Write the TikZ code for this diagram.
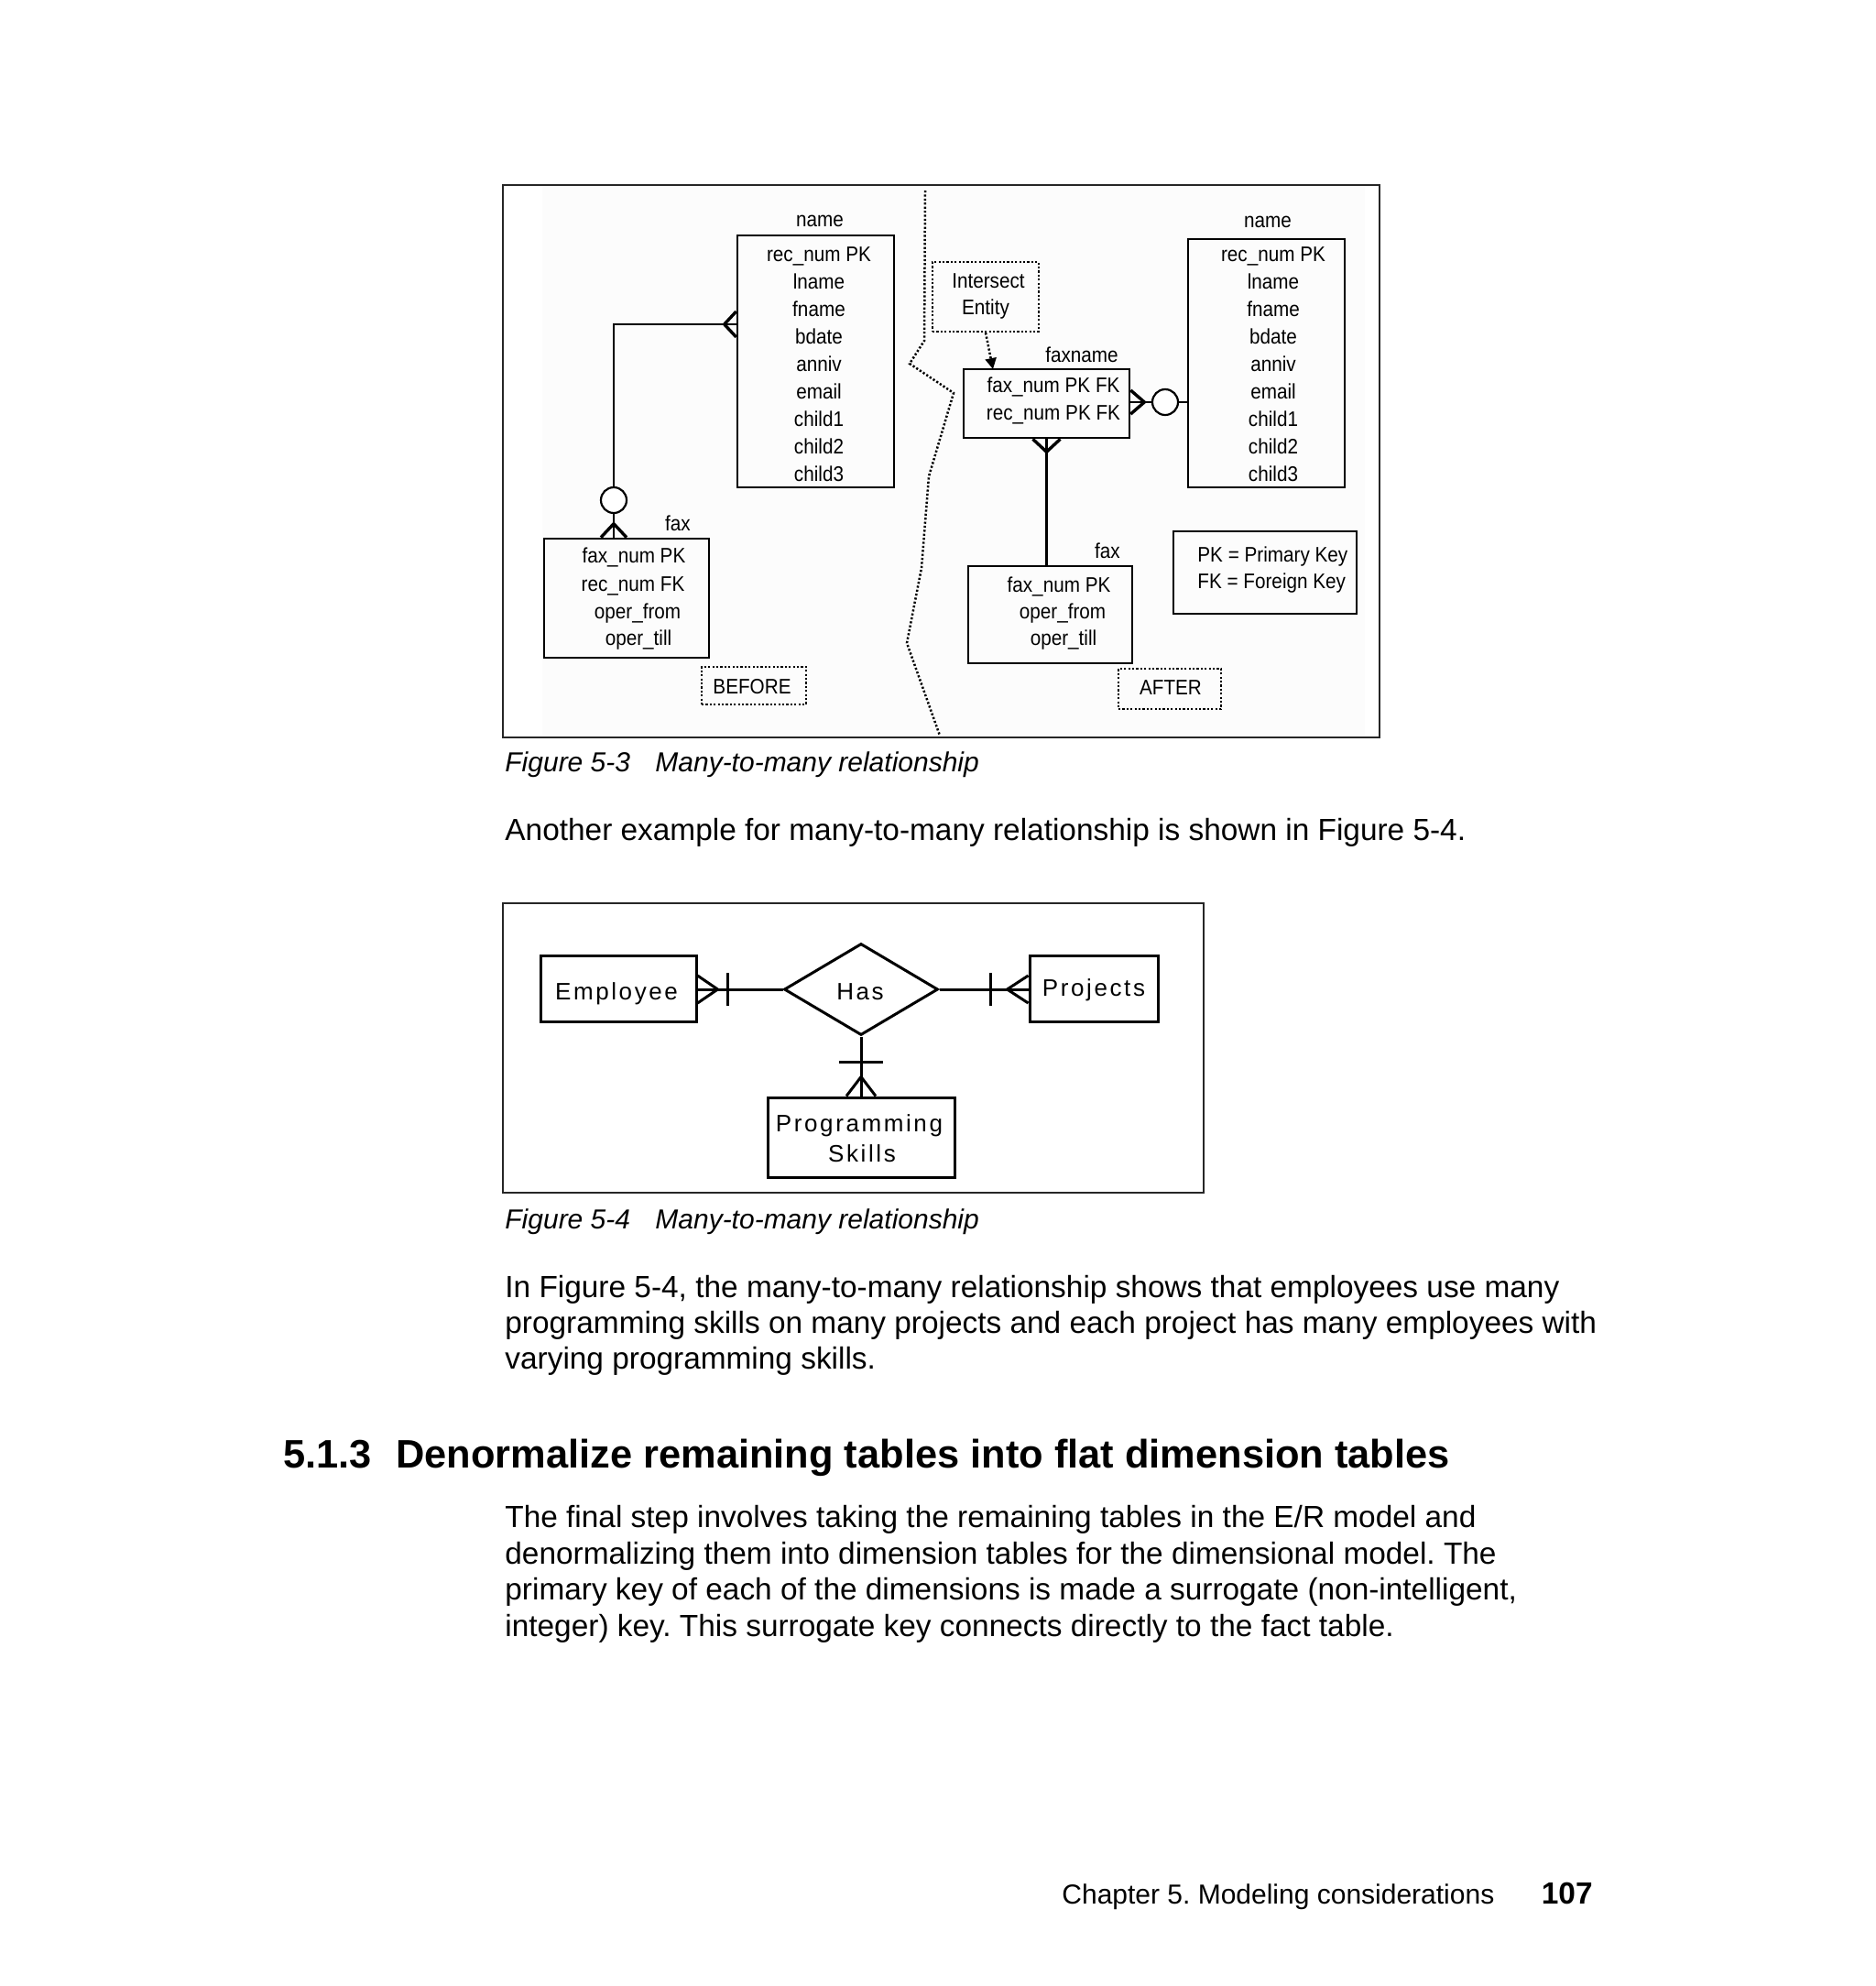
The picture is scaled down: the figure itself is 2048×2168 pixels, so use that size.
\documentclass[tikz,border=0pt]{standalone}
\usepackage{fontspec}
\setmainfont{Liberation Sans}
\newfontfamily\condf[FakeStretch=0.9]{Liberation Sans}
\newfontfamily\spacedf[LetterSpace=10]{Liberation Sans}
\usetikzlibrary{shapes.geometric,arrows.meta,fit,calc}
\frenchspacing
\begin{document}
\begin{tikzpicture}[x=0.5pt,y=-0.5pt,
  frame/.style={draw=black!85, line width=1pt},
  tbl/.style={draw, line width=1.3pt, inner sep=0pt},
  dotbox/.style={draw, line width=1.25pt, dash pattern=on 1.1pt off 1.1pt, inner sep=0pt},
  dotline/.style={line width=1.25pt, dash pattern=on 1.1pt off 1.1pt},
  conn/.style={line width=1.3pt},
  crow/.style={line width=1.7pt, line join=miter},
  ftxt/.style={font=\condf\fontsize{11.5}{14}\selectfont, inner sep=0pt, anchor=base},
  erbox/.style={draw, line width=1.5pt, inner sep=0pt},
  c4/.style={line width=1.5pt},
  etxt/.style={font=\spacedf\fontsize{13}{16}\selectfont, inner sep=0pt, anchor=base},
  body/.style={font=\fontsize{16.7}{20}\selectfont, inner sep=0pt, anchor=base west},
  capt/.style={font=\itshape\fontsize{15}{18}\selectfont, inner sep=0pt, anchor=base west},
]
\useasboundingbox (0,0) rectangle (2048,2168);
\fill[white] (0,0) rectangle (2048,2168);

%% ---------------- Figure 5-3 ----------------
\fill[black!1.3] (592,204) rectangle (1490,803);
\node[frame, inner sep=0pt, fit={(549,202) (1506,805)}] (fig3) {};

% left (before)
\node[tbl, fit={(805,257) (976,532)}] (lname) {};
\node[ftxt] (lnamelab) at (895,247) {name};
\foreach \t [count=\i from 0] in {rec\_num PK, lname, fname, bdate, anniv, email, child1, child2, child3}
  \node[ftxt] (lrow\i) at (894,285+30.1*\i) {\t};

\node[tbl, fit={(594,588) (774,718)}] (lfax) {};
\node[ftxt] (lfaxlab) at (740,579) {fax};
\node[ftxt] (lf0) at (692,614) {fax\_num PK};
\node[ftxt] (lf1) at (691,645) {rec\_num FK};
\node[ftxt] (lf2) at (696,675) {oper\_from};
\node[ftxt] (lf3) at (697,704) {oper\_till};

\node[circle, draw, line width=1.1pt, minimum size=14pt, inner sep=0pt, fill=white] (lcirc) at (670,546) {};
\coordinate (lk) at (670,354);
\coordinate (la) at (lname.west |- lk);
\coordinate (lb) at (lk |- lfax.north);
\draw[conn] (la) -- (lk) -- (lcirc.north);
\draw[conn] (lcirc.south) -- (lb);
\draw[crow] (la) ++(0,-14) -- ++(-13,14) -- ++(13,14);
\draw[crow] (lb) ++(-14,0) -- ++(14,-15) -- ++(14,15);

\node[dotbox, fit={(766,728) (880,769)}] (before) {};
\node[ftxt] (beforet) at (821,757) {BEFORE};

% divider
\draw[dotline] (1010,208) -- (1009,372) -- (993,397) -- (1041,429) -- (1014,520) -- (1006,620) -- (990,702) -- (1026,803);

% right (after)
\node[dotbox, fit={(1018,286) (1134,362)}] (ie) {};
\node[ftxt] (ie1) at (1079,314) {Intersect};
\node[ftxt] (ie2) at (1076,343) {Entity};

\node[tbl, fit={(1052,403) (1233,478)}] (fxn) {};
\node[ftxt] (fxnlab) at (1181,395) {faxname};
\node[ftxt] (fxn0) at (1150,428) {fax\_num PK FK};
\node[ftxt] (fxn1) at (1150,458) {rec\_num PK FK};
\coordinate (fxin) at (1084,403);
\draw[dotline, -{Triangle[length=6pt,width=6pt]}] (ie.south) -- (fxin);

\node[tbl, fit={(1297,261) (1468,532)}] (rname) {};
\node[ftxt] (rnamelab) at (1384,248) {name};
\foreach \t [count=\i from 0] in {rec\_num PK, lname, fname, bdate, anniv, email, child1, child2, child3}
  \node[ftxt] (rrow\i) at (1390,285+30.1*\i) {\t};

\node[circle, draw, line width=1.1pt, minimum size=14pt, inner sep=0pt, fill=white] (rcirc) at (1272,439) {};
\coordinate (ra) at (rcirc -| fxn.east);
\draw[conn] (ra) -- (rcirc.west);
\draw[conn] (rcirc.east) -- (rcirc -| rname.west);
\draw[crow] (ra) ++(0,-13) -- ++(15,13) -- ++(-15,13);

\node[tbl, fit={(1057,618) (1236,724)}] (afax) {};
\node[ftxt] (afaxlab) at (1209,609) {fax};
\node[ftxt] (af0) at (1156,646) {fax\_num PK};
\node[ftxt] (af1) at (1160,675) {oper\_from};
\node[ftxt] (af2) at (1161,704) {oper\_till};
\coordinate (fb) at (afax.north -| fxn.south);
\draw[conn] (fxn.south) -- (fb);
\draw[crow] (fxn.south) ++(-15,0) -- ++(15,14) -- ++(15,-14);

\node[tbl, fit={(1281,580) (1481,670)}] (legend) {};
\node[ftxt, anchor=base west] (leg1) at (1307,613) {PK = Primary Key};
\node[ftxt, anchor=base west] (leg2) at (1307,642) {FK = Foreign Key};

\node[dotbox, fit={(1221,730) (1333,774)}] (after) {};
\node[ftxt] (aftert) at (1278,758) {AFTER};

\node[capt] (cap3a) at (551,842) {Figure 5-3};
\node[capt] (cap3b) at (715,842) {Many-to-many relationship};

\node[body] (p1) at (551,917) {Another example for many-to-many relationship is shown in Figure 5-4.};

%% ---------------- Figure 5-4 ----------------
\node[frame, inner sep=0pt, fit={(549,986) (1314,1302)}] (fig4) {};

\node[erbox, fit={(590,1043) (760,1115)}] (emp) {};
\node[etxt] (empt) at (673,1091) {Employee};
\node[draw, diamond, line width=1.5pt, inner sep=0pt, minimum width=84pt, minimum height=50pt] (has) at (940,1080) {};
\node[etxt] (hast) at (939,1091) {Has};
\node[erbox, fit={(1124,1043) (1264,1115)}] (proj) {};
\node[etxt] (projt) at (1194,1087) {Projects};
\node[erbox, fit={(838,1198) (1042,1285)}] (ps) {};
\node[etxt] (pst1) at (938,1235) {Programming};
\node[etxt] (pst2) at (941,1268) {Skills};

\coordinate (ea) at (has.west -| emp.east);
\draw[c4] (ea) -- (has.west);
\draw[c4] (ea) ++(0,-15) -- ++(22,15) -- ++(-22,15);
\draw[c4] (ea) ++(33,-18) -- ++(0,36);

\coordinate (pa) at (has.east -| proj.west);
\draw[c4] (has.east) -- (pa);
\draw[c4] (pa) ++(0,-15) -- ++(-23,15) -- ++(23,15);
\draw[c4] (pa) ++(-41,-18) -- ++(0,36);

\coordinate (sa) at (has.south |- ps.north);
\draw[c4] (has.south) -- (sa);
\draw[c4] (sa) ++(-16,0) -- ++(16,-21) -- ++(16,21);
\draw[c4] (sa) ++(-24,-37) -- ++(48,0);

\node[capt] (cap4a) at (551,1341) {Figure 5-4};
\node[capt] (cap4b) at (715,1341) {Many-to-many relationship};

\node[body] (q1) at (551,1416) {In Figure 5-4, the many-to-many relationship shows that employees use many};
\node[body] (q2) at (551,1455) {programming skills on many projects and each project has many employees with};
\node[body] (q3) at (551,1494) {varying programming skills.};

\node[inner sep=0pt, anchor=base west, font=\bfseries\fontsize{21.7}{26}\selectfont] (h1) at (309,1602) {5.1.3};
\node[inner sep=0pt, anchor=base west, font=\bfseries\fontsize{21.7}{26}\selectfont] (h2) at (432,1602) {Denormalize remaining tables into flat dimension tables};

\node[body] (r1) at (551,1667) {The final step involves taking the remaining tables in the E/R model and};
\node[body] (r2) at (551,1707) {denormalizing them into dimension tables for the dimensional model. The};
\node[body] (r3) at (551,1746) {primary key of each of the dimensions is made a surrogate (non-intelligent,};
\node[body] (r4) at (551,1786) {integer) key. This surrogate key connects directly to the fact table.};

\node[inner sep=0pt, anchor=base west, font=\fontsize{15}{18}\selectfont] (foot) at (1159,2078) {Chapter 5. Modeling considerations};
\node[inner sep=0pt, anchor=base east, font=\bfseries\fontsize{16.7}{20}\selectfont] (pnum) at (1739,2078) {107};
\end{tikzpicture}
\end{document}
